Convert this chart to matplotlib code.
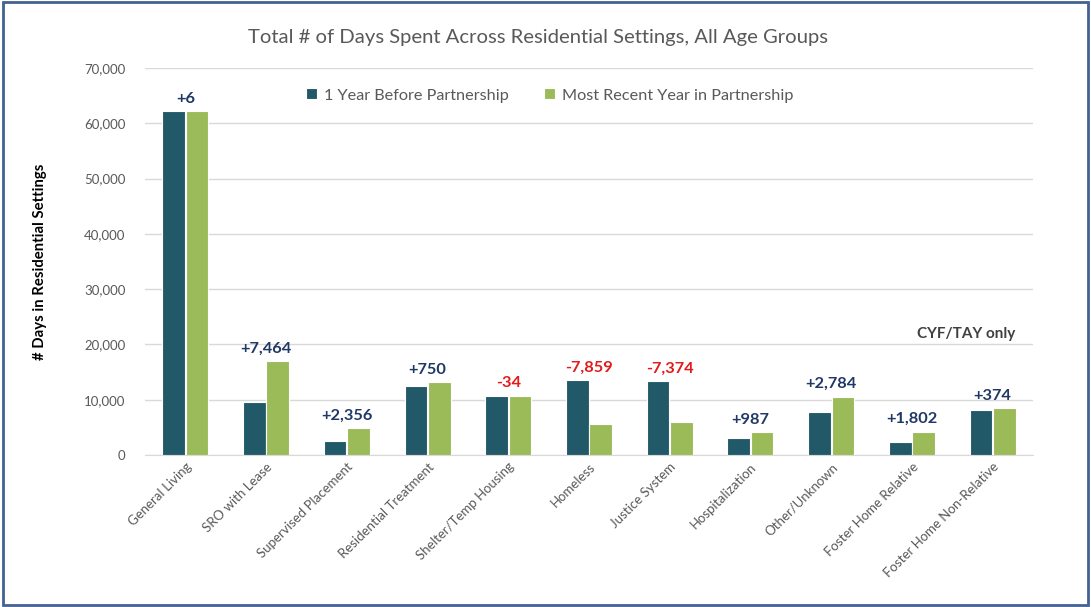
import matplotlib
matplotlib.use("Agg")
import matplotlib.pyplot as plt
import numpy as np
from matplotlib.patches import Rectangle

categories = ["General Living", "SRO with Lease", "Supervised Placement",
              "Residential Treatment", "Shelter/Temp Housing", "Homeless",
              "Justice System", "Hospitalization", "Other/Unknown",
              "Foster Home Relative", "Foster Home Non-Relative"]
before = [62150, 9500, 2450, 12400, 10700, 13550, 13300, 3100, 7750, 2400, 8100]
recent = [62156, 16964, 4806, 13150, 10666, 5691, 5926, 4087, 10534, 4202, 8474]
change_labels = ["+6", "+7,464", "+2,356", "+750", "-34", "-7,859", "-7,374",
                 "+987", "+2,784", "+1,802", "+374"]
series_names = ["1 Year Before Partnership", "Most Recent Year in Partnership"]
yticks = [0, 10000, 20000, 30000, 40000, 50000, 60000, 70000]

plt.rcParams['font.family'] = ['Lato', 'DejaVu Sans']

fig = plt.figure(figsize=(10.91, 6.07), dpi=100)
ax = fig.add_axes([145/1091, 1-455/607, (1033-145)/1091, (455-68)/607])

x = np.arange(len(categories))
w = 0.28
dark = "#215968"
green = "#9BBB59"
ax.bar(x - w/2 - 0.005, before, width=w, color=dark, edgecolor="white", linewidth=0.8,
       label=series_names[0], zorder=3)
ax.bar(x + w/2 + 0.005, recent, width=w, color=green, edgecolor="white", linewidth=0.8,
       label=series_names[1], zorder=3)

for i, lab in enumerate(change_labels):
    top = max(before[i], recent[i])
    col = "#E31A1C" if lab.startswith("-") else "#1F3864"
    ax.annotate(lab, (x[i], top), xytext=(0, 4), textcoords="offset points",
                ha="center", va="bottom", fontsize=11.8, fontweight="bold", color=col)

ax.set_xlim(-0.5, len(categories) - 0.5)
ax.set_ylim(0, 70000)
ax.set_yticks(yticks)
ax.set_yticklabels([f"{v:,}" for v in yticks], fontsize=9.5, color="#595959")
ax.yaxis.grid(True, color="#D9D9D9", linewidth=1, zorder=0)
ax.set_axisbelow(True)
for s in ["top", "right", "left"]:
    ax.spines[s].set_visible(False)
ax.spines["bottom"].set_color("#D9D9D9")
ax.tick_params(axis="y", length=0, pad=14)
ax.tick_params(axis="x", length=0, pad=4)
ax.set_xticks(x)
ax.set_xticklabels(categories, rotation=45, ha="right", rotation_mode="anchor",
                   fontsize=9.5, color="#595959")

leg = ax.legend(loc="upper center", bbox_to_anchor=(0.456, 0.985), ncol=2, frameon=False,
                fontsize=11.7, handlelength=0.65, handleheight=0.65, columnspacing=2.2,
                handletextpad=0.45)
for t in leg.get_texts():
    t.set_color("#595959")

ax.text(0.98, 21900, "CYF/TAY only", transform=ax.get_yaxis_transform(),
        fontsize=11, fontweight="bold", color="#404040", ha="right", va="center")

fig.text(538/1091, 1-38/607, "Total # of Days Spent Across Residential Settings, All Age Groups",
         ha="center", va="center", fontsize=14.6, color="#595959")
fig.text(40/1091, 1-262/607, "# Days in Residential Settings", rotation=90,
         ha="center", va="center", fontsize=10.7, fontweight="bold", color="#000000")

fig.patches.append(Rectangle((0.003, 0.003), 0.994, 0.994, transform=fig.transFigure,
                             fill=False, edgecolor="#44628F", linewidth=2))

fig.savefig("out.png", dpi=100)
